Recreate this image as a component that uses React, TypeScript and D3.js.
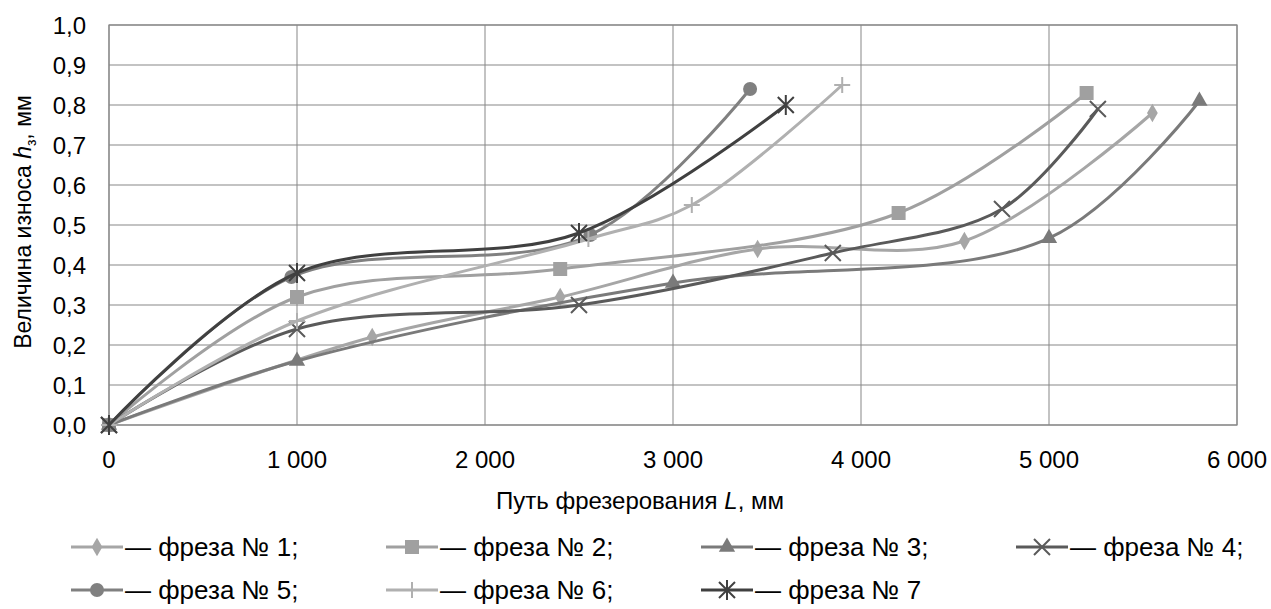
import React from 'react';
import * as d3 from 'd3';

// Путь фрезерования L, мм / величина износа h3, мм
const names = ['— фреза № 1;', '— фреза № 2;', '— фреза № 3;', '— фреза № 4;', '— фреза № 5;', '— фреза № 6;', '— фреза № 7'];
const colors = ['#a6a6a6', '#a0a0a0', '#7a7a7a', '#5a5a5a', '#808080', '#b0b0b0', '#404040'];
const markers = ['diamond', 'square', 'triangle', 'x', 'circle', 'plus', 'star'];

const s1L = [0, 1400, 2400, 3450, 4550, 5550];
const s1H = [0, 0.22, 0.32, 0.44, 0.46, 0.78];
const s2L = [0, 1000, 2400, 4200, 5200];
const s2H = [0, 0.32, 0.39, 0.53, 0.83];
const s3L = [0, 1000, 3000, 5000, 5800];
const s3H = [0, 0.16, 0.355, 0.467, 0.81];
const s4L = [0, 1000, 2500, 3850, 4750, 5260];
const s4H = [0, 0.24, 0.30, 0.43, 0.54, 0.79];
const s5L = [0, 970, 2560, 3410];
const s5H = [0, 0.37, 0.475, 0.84];
const s6L = [0, 1000, 2550, 3100, 3900];
const s6H = [0, 0.26, 0.465, 0.55, 0.85];
const s7L = [0, 1000, 2500, 3600];
const s7H = [0, 0.38, 0.48, 0.80];

const seriesL = [s1L, s2L, s3L, s4L, s5L, s6L, s7L];
const seriesH = [s1H, s2H, s3H, s4H, s5H, s6H, s7H];

const xTicks = [0, 1000, 2000, 3000, 4000, 5000, 6000];
const yTicks = [0, 0.1, 0.2, 0.3, 0.4, 0.5, 0.6, 0.7, 0.8, 0.9, 1.0];

const W = 1271;
const H = 609;
const plot = { left: 109, right: 1237, top: 25, bottom: 425 };
const font = '"Liberation Sans", Arial, sans-serif';
const gridColor = '#878787';
const fs = 24;

const ruLocale = d3.formatLocale({ decimal: ',', thousands: '\u00a0', grouping: [3], currency: ['', ''] });
const fmtX = ruLocale.format(',');
const fmtY = ruLocale.format('.1f');

const Marker: React.FC<{ kind: string; x: number; y: number; color: string }> = ({ kind, x, y, color }) => {
    const t = `translate(${x},${y})`;
    switch (kind) {
        case 'diamond':
            return <path transform={t} d={d3.symbol(d3.symbolDiamond, 100)() || ''} fill={color} />;
        case 'square':
            return <rect x={x - 7} y={y - 7} width={14} height={14} fill={color} />;
        case 'triangle':
            return <path transform={t} d={d3.symbol(d3.symbolTriangle, 115)() || ''} fill={color} />;
        case 'circle':
            return <circle cx={x} cy={y} r={7} fill={color} />;
        case 'x':
            return <path transform={t} d="M-8,-8L8,8M-8,8L8,-8" stroke={color} strokeWidth={2} fill="none" />;
        case 'plus':
            return <path transform={t} d="M-8,0L8,0M0,-8L0,8" stroke={color} strokeWidth={2} fill="none" />;
        case 'star':
            return <path transform={t} d="M-8,-8L8,8M-8,8L8,-8M0,-10L0,10" stroke={color} strokeWidth={2} fill="none" />;
        default:
            return null;
    }
};

export default function App() {
    const x = d3.scaleLinear().domain([0, 6000]).range([plot.left, plot.right]);
    const y = d3.scaleLinear().domain([0, 1]).range([plot.bottom, plot.top]);

    const line = d3.line<[number, number]>()
        .x(d => x(d[0]))
        .y(d => y(d[1]))
        .curve(d3.curveCatmullRom.alpha(0.5));

    const legendCols = [71, 386, 701, 1016];
    const legendRows = [547, 590];

    return (
        <svg width={W} height={H} style={{ position: 'absolute', left: 0, top: 0, background: '#fff' }} fontFamily={font}>
            <rect x={0} y={0} width={W} height={H} fill="#fff" />
            {/* grid */}
            {yTicks.map(t => (
                <line key={'gy' + t} x1={plot.left} x2={plot.right} y1={y(t)} y2={y(t)} stroke={gridColor} strokeWidth={1} />
            ))}
            {xTicks.map(t => (
                <line key={'gx' + t} x1={x(t)} x2={x(t)} y1={plot.top} y2={plot.bottom} stroke={gridColor} strokeWidth={1} />
            ))}
            <rect x={plot.left} y={plot.top} width={plot.right - plot.left} height={plot.bottom - plot.top} fill="none" stroke={gridColor} strokeWidth={1.2} />

            {/* tick labels */}
            {yTicks.map(t => (
                <text key={'ly' + t} x={86} y={y(t)} dy="0.36em" textAnchor="end" fontSize={fs} fill="#000">{fmtY(t)}</text>
            ))}
            {xTicks.map(t => (
                <text key={'lx' + t} x={x(t)} y={468} textAnchor="middle" fontSize={fs} fill="#000">{fmtX(t)}</text>
            ))}

            {/* axis titles */}
            <text x={640} y={509} textAnchor="middle" fontSize={fs} fill="#000">
                Путь фрезерования <tspan fontStyle="italic">L</tspan>, мм
            </text>
            <text transform={`translate(31,${222}) rotate(-90)`} textAnchor="middle" fontSize={23} fill="#000">
                Величина износа <tspan fontStyle="italic">h</tspan><tspan fontSize={14} dy={5}>з</tspan><tspan dy={-5}>, мм</tspan>
            </text>

            {/* series */}
            {seriesL.map((ls, i) => {
                const pts = ls.map((l, j) => [l, seriesH[i][j]] as [number, number]);
                return (
                    <g key={'s' + i}>
                        <path d={line(pts) || ''} fill="none" stroke={colors[i]} strokeWidth={3} />
                        {pts.map((p, j) => (
                            <Marker key={j} kind={markers[i]} x={x(p[0])} y={y(p[1])} color={colors[i]} />
                        ))}
                    </g>
                );
            })}

            {/* legend */}
            {names.map((n, i) => {
                const lx = legendCols[i % 4];
                const ly = legendRows[Math.floor(i / 4)];
                return (
                    <g key={'lg' + i}>
                        <line x1={lx} x2={lx + 52} y1={ly} y2={ly} stroke={colors[i]} strokeWidth={3} />
                        <Marker kind={markers[i]} x={lx + 26} y={ly} color={colors[i]} />
                        <text x={lx + 54} y={ly + 9} fontSize={26} fill="#000">{n}</text>
                    </g>
                );
            })}
        </svg>
    );
}
